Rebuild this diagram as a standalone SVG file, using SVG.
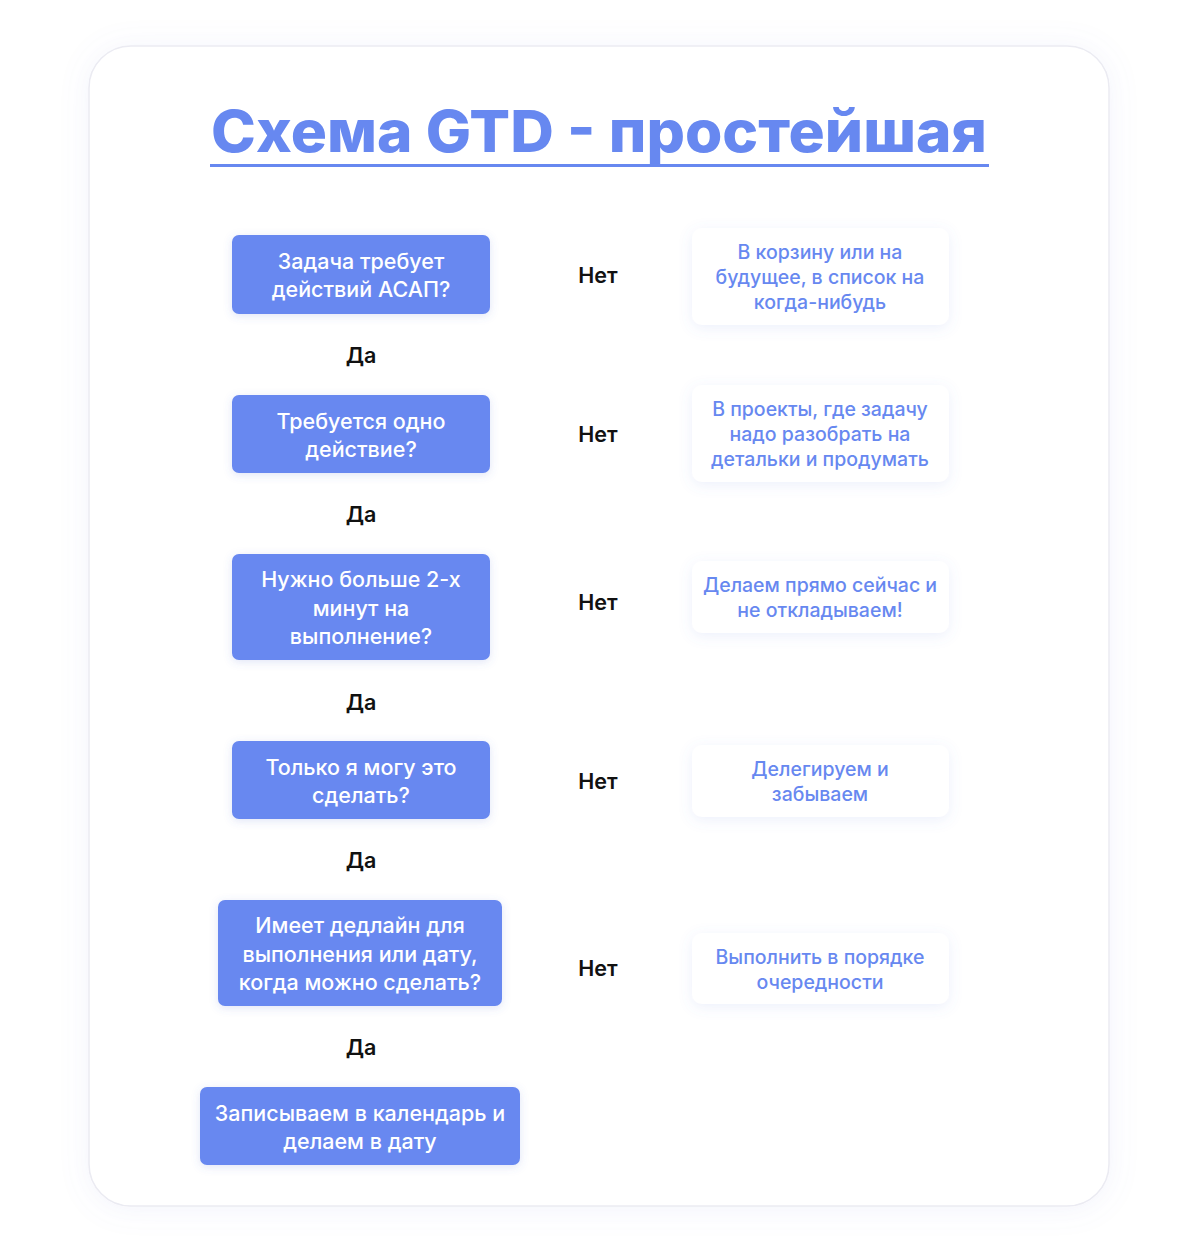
<svg xmlns="http://www.w3.org/2000/svg" width="1200" height="1252" viewBox="0 0 1200 1252">
<defs>
<filter id="cardShadow" x="-10%" y="-10%" width="120%" height="120%">
<feDropShadow dx="0" dy="2" stdDeviation="14" flood-color="#7f8fd8" flood-opacity="0.10"/>
</filter>
<filter id="boxShadow" x="-20%" y="-30%" width="140%" height="160%">
<feDropShadow dx="0" dy="3" stdDeviation="7" flood-color="#6a84e0" flood-opacity="0.12"/>
</filter>
<filter id="qShadow" x="-20%" y="-30%" width="140%" height="160%">
<feDropShadow dx="0" dy="2" stdDeviation="4" flood-color="#4f6bd0" flood-opacity="0.18"/>
</filter>
</defs>
<style>
.q { fill: #6788f0; filter: url(#qShadow); }
.a { fill: #ffffff; filter: url(#boxShadow); }
.qt { font-family: Inter, "Noto Sans", "DejaVu Sans", sans-serif; font-size: 21.5px; font-weight: 500; fill: #ffffff; text-anchor: middle; }
.at { font-family: Inter, "Noto Sans", "DejaVu Sans", sans-serif; font-size: 19.5px; font-weight: 500; fill: #6788f0; text-anchor: middle; }
.lbl { font-family: Inter, "Liberation Sans", "DejaVu Sans", sans-serif; font-size: 21.5px; font-weight: 600; fill: #111111; text-anchor: middle; }
.title { font-family: Inter, "Liberation Sans", "DejaVu Sans", sans-serif; font-size: 58px; font-weight: 800; fill: #6788f0; text-anchor: middle; }
</style>
<rect width="1200" height="1252" fill="#ffffff"/>
<rect x="89" y="46" width="1020" height="1160" rx="42" fill="#ffffff" stroke="#ebebf2" stroke-width="1.5" filter="url(#cardShadow)"/>

<g id="title">
<text class="title" x="599" y="152" textLength="776" lengthAdjust="spacingAndGlyphs">Схема GTD - простейшая</text>
<rect x="210" y="164" width="779" height="3" fill="#6788f0"/>
</g>

<g id="q1">
<rect class="q" x="232" y="235" width="258" height="79" rx="7"/>
<text class="qt" x="361" y="269">Задача требует</text>
<text class="qt" x="361" y="297">действий АСАП?</text>
</g>
<g id="q2">
<rect class="q" x="232" y="395" width="258" height="78" rx="7"/>
<text class="qt" x="361" y="429">Требуется одно</text>
<text class="qt" x="361" y="457">действие?</text>
</g>
<g id="q3">
<rect class="q" x="232" y="554" width="258" height="106" rx="7"/>
<text class="qt" x="361" y="587">Нужно больше 2-х</text>
<text class="qt" x="361" y="616">минут на</text>
<text class="qt" x="361" y="644">выполнение?</text>
</g>
<g id="q4">
<rect class="q" x="232" y="741" width="258" height="78" rx="7"/>
<text class="qt" x="361" y="775">Только я могу это</text>
<text class="qt" x="361" y="803">сделать?</text>
</g>
<g id="q5">
<rect class="q" x="218" y="900" width="284" height="106" rx="7"/>
<text class="qt" x="360" y="933">Имеет дедлайн для</text>
<text class="qt" x="360" y="962">выполнения или дату,</text>
<text class="qt" x="360" y="990">когда можно сделать?</text>
</g>
<g id="final">
<rect class="q" x="200" y="1087" width="320" height="78" rx="7"/>
<text class="qt" x="360" y="1121">Записываем в календарь и</text>
<text class="qt" x="360" y="1149">делаем в дату</text>
</g>

<g id="a1">
<rect class="a" x="692" y="228" width="257" height="97" rx="10"/>
<text class="at" x="820" y="259">В корзину или на</text>
<text class="at" x="820" y="284">будущее, в список на</text>
<text class="at" x="820" y="309">когда-нибудь</text>
</g>
<g id="a2">
<rect class="a" x="692" y="385" width="257" height="97" rx="10"/>
<text class="at" x="820" y="416">В проекты, где задачу</text>
<text class="at" x="820" y="441">надо разобрать на</text>
<text class="at" x="820" y="466">детальки и продумать</text>
</g>
<g id="a3">
<rect class="a" x="692" y="561" width="257" height="72" rx="10"/>
<text class="at" x="820" y="592">Делаем прямо сейчас и</text>
<text class="at" x="820" y="617">не откладываем!</text>
</g>
<g id="a4">
<rect class="a" x="692" y="745" width="257" height="72" rx="10"/>
<text class="at" x="820" y="776">Делегируем и</text>
<text class="at" x="820" y="801">забываем</text>
</g>
<g id="a5">
<rect class="a" x="692" y="933" width="257" height="71" rx="10"/>
<text class="at" x="820" y="964">Выполнить в порядке</text>
<text class="at" x="820" y="989">очередности</text>
</g>

<g id="connectors">
<text class="lbl" x="598" y="283">Нет</text>
<text class="lbl" x="598" y="442">Нет</text>
<text class="lbl" x="598" y="610">Нет</text>
<text class="lbl" x="598" y="789">Нет</text>
<text class="lbl" x="598" y="976">Нет</text>
<text class="lbl" x="361" y="363">Да</text>
<text class="lbl" x="361" y="522">Да</text>
<text class="lbl" x="361" y="710">Да</text>
<text class="lbl" x="361" y="868">Да</text>
<text class="lbl" x="361" y="1055">Да</text>
</g>
</svg>
